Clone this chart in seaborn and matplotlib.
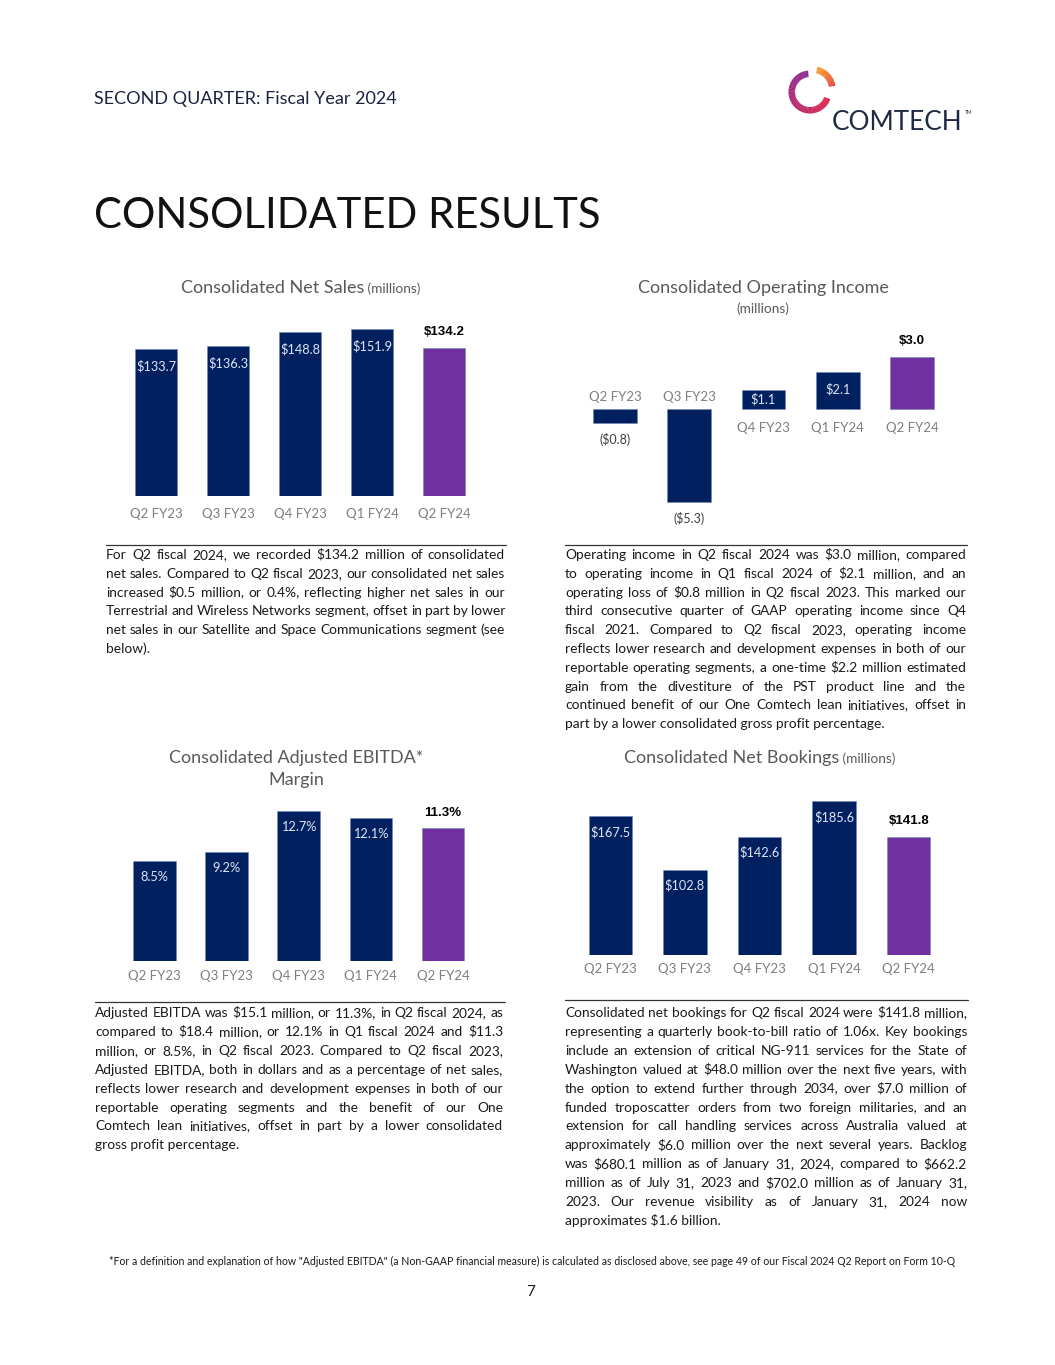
import numpy as np
import pandas as pd
import matplotlib
matplotlib.use("Agg")
import matplotlib.pyplot as plt
import seaborn as sns
from matplotlib.patches import Wedge

# ===== data =====
quarters = ["Q2 FY23", "Q3 FY23", "Q4 FY23", "Q1 FY24", "Q2 FY24"]
net_sales = [133.7, 136.3, 148.8, 151.9, 134.2]
op_income = [-0.8, -5.3, 1.1, 2.1, 3.0]
ebitda_margin = [8.5, 9.2, 12.7, 12.1, 11.3]
bookings = [167.5, 102.8, 142.6, 185.6, 141.8]

sales_labels = ["$133.7", "$136.3", "$148.8", "$151.9", "$134.2"]
op_labels = ["($0.8)", "($5.3)", "$1.1", "$2.1", "$3.0"]
ebitda_labels = ["8.5%", "9.2%", "12.7%", "12.1%", "11.3%"]
booking_labels = ["$167.5", "$102.8", "$142.6", "$185.6", "$141.8"]

para_sales = [
    "For Q2 fiscal 2024, we recorded $134.2 million of consolidated",
    "net sales. Compared to Q2 fiscal 2023, our consolidated net sales",
    "increased $0.5 million, or 0.4%, reflecting higher net sales in our",
    "Terrestrial and Wireless Networks segment, offset in part by lower",
    "net sales in our Satellite and Space Communications segment (see",
    "below).",
]
para_op = [
    "Operating income in Q2 fiscal 2024 was $3.0 million, compared",
    "to operating income in Q1 fiscal 2024 of $2.1 million, and an",
    "operating loss of $0.8 million in Q2 fiscal 2023. This marked our",
    "third consecutive quarter of GAAP operating income since Q4",
    "fiscal 2021. Compared to Q2 fiscal 2023, operating income",
    "reflects lower research and development expenses in both of our",
    "reportable operating segments, a one-time $2.2 million estimated",
    "gain from the divestiture of the PST product line and the",
    "continued benefit of our One Comtech lean initiatives, offset in",
    "part by a lower consolidated gross profit percentage.",
]
para_ebitda = [
    "Adjusted EBITDA was $15.1 million, or 11.3%, in Q2 fiscal 2024, as",
    "compared to $18.4 million, or 12.1% in Q1 fiscal 2024 and $11.3",
    "million, or 8.5%, in Q2 fiscal 2023. Compared to Q2 fiscal 2023,",
    "Adjusted EBITDA, both in dollars and as a percentage of net sales,",
    "reflects lower research and development expenses in both of our",
    "reportable operating segments and the benefit of our One",
    "Comtech lean initiatives, offset in part by a lower consolidated",
    "gross profit percentage.",
]
para_book = [
    "Consolidated net bookings for Q2 fiscal 2024 were $141.8 million,",
    "representing a quarterly book-to-bill ratio of 1.06x. Key bookings",
    "include an extension of critical NG-911 services for the State of",
    "Washington valued at $48.0 million over the next five years, with",
    "the option to extend further through 2034, over $7.0 million of",
    "funded troposcatter orders from two foreign militaries, and an",
    "extension for call handling services across Australia valued at",
    "approximately $6.0 million over the next several years. Backlog",
    "was $680.1 million as of January 31, 2024, compared to $662.2",
    "million as of July 31, 2023 and $702.0 million as of January 31,",
    "2023. Our revenue visibility as of January 31, 2024 now",
    "approximates $1.6 billion.",
]
footnote = ('*For a definition and explanation of how "Adjusted EBITDA" (a Non-GAAP financial measure) '
            'is calculated as disclosed above, see page 49 of our Fiscal 2024 Q2 Report on Form 10-Q')

# ===== style =====
sns.set_style("white")
plt.rcParams["font.family"] = ["Lato", "DejaVu Sans"]

NAVY = "#002060"
PURPLE = "#7030A0"
INSIDE = "#DDE5F3"
CAT_GRAY = "#7F7F7F"
TITLE_GRAY = "#595959"
TEXT = "#1A1A1A"
colors = [NAVY] * 4 + [PURPLE]

W, H = 1055, 1365
fig = plt.figure(figsize=(W / 100, H / 100), dpi=100)
fig.patch.set_facecolor("white")
renderer = fig.canvas.get_renderer()


def fx(x):
    return x / W


def fy(y):
    return 1 - y / H


def px_axes(left, right, top, bottom):
    return fig.add_axes([fx(left), fy(bottom), (right - left) / W, (bottom - top) / H])


def text_width(s, **kw):
    t = fig.text(0, 0, s, **kw)
    w = t.get_window_extent(renderer).width
    t.remove()
    return w


def justify(lines, x0, x1, y0, dy, size=9.9):
    kw = dict(fontsize=size, color=TEXT, va="baseline")
    for i, line in enumerate(lines):
        y = y0 + i * dy + 4
        if i == len(lines) - 1:
            fig.text(fx(x0), fy(y), line, ha="left", **kw)
            continue
        words = line.split()
        widths = [text_width(w, **kw) for w in words]
        gap = (x1 - x0 - sum(widths)) / (len(words) - 1)
        x = x0
        for w, wd in zip(words, widths):
            fig.text(fx(x), fy(y), w, ha="left", **kw)
            x += wd + gap


def title_pair(main, small, cx, y, size=13, small_size=9.8):
    kw_main = dict(fontsize=size, color=TITLE_GRAY, va="baseline")
    kw_small = dict(fontsize=small_size, color=TITLE_GRAY, va="baseline")
    w1 = text_width(main, **kw_main)
    w2 = text_width(" " + small, **kw_small)
    x0 = cx - (w1 + w2) / 2
    fig.text(fx(x0), fy(y), main, ha="left", **kw_main)
    fig.text(fx(x0 + w1), fy(y), " " + small, ha="left", **kw_small)


def bars(ax, values, ylim, width):
    df = pd.DataFrame({"quarter": quarters, "value": values})
    sns.barplot(data=df, x="quarter", y="value", hue="quarter", palette=colors,
                saturation=1, width=width, legend=False, ax=ax,
                edgecolor="#6F86B8", linewidth=0.4)
    ax.set_xlim(-0.5, 4.5)
    ax.set_ylim(*ylim)
    sns.despine(ax=ax, left=True, bottom=True)
    ax.set_yticks([])
    ax.set_xlabel("")
    ax.set_ylabel("")
    ax.set_facecolor("none")


def label_bars(ax, values, labels, inside=17, above=16):
    for i, (v, s) in enumerate(zip(values, labels)):
        if i < 4:
            ax.annotate(s, xy=(i, v), xytext=(0, -inside), textcoords="offset pixels",
                        ha="center", va="center", fontsize=9.2, color=INSIDE)
        else:
            ax.annotate(s, xy=(i, v), xytext=(0, above), textcoords="offset pixels",
                        ha="center", va="center", fontsize=9.5, color="black",
                        fontweight="bold", family=["Liberation Sans", "DejaVu Sans"])


def cat_ticks(ax, pad):
    ax.tick_params(axis="x", length=0, pad=pad, labelsize=9.5, labelcolor=CAT_GRAY)


# ===== header =====
fig.text(fx(94), fy(99), "SECOND QUARTER: Fiscal Year 2024", fontsize=13,
         color="#1C2340", ha="left", va="center")
big_kw = dict(color="#111111", ha="left", va="center")
big_size = 31 * 504 / text_width("CONSOLIDATED RESULTS", fontsize=31, **big_kw)
fig.text(fx(94), fy(216), "CONSOLIDATED RESULTS", fontsize=big_size, **big_kw)

# logo
lax = px_axes(780, 840, 61, 121)
lax.set_xlim(-30, 30)
lax.set_ylim(-30, 30)
lax.set_aspect("equal")
lax.axis("off")
c0 = np.array([0x8A, 0x2B, 0x92]) / 255
c1 = np.array([0xE0, 0x26, 0x4F]) / 255
angles = np.linspace(95, 340, 60)
for k in range(len(angles) - 1):
    t = k / (len(angles) - 2)
    col = c0 * (1 - t) + c1 * t
    lax.add_patch(Wedge((0, -1), 21.5, angles[k], angles[k + 1] + 0.8, width=6.5,
                        color=col, lw=0))
c2 = np.array([0xE8, 0x45, 0x38]) / 255
c3 = np.array([0xF5, 0x9E, 0x2A]) / 255
angles2 = np.linspace(8, 78, 30)
for k in range(len(angles2) - 1):
    t = k / (len(angles2) - 2)
    col = c2 * (1 - t) + c3 * t
    lax.add_patch(Wedge((3, 2), 22.5, angles2[k], angles2[k + 1] + 0.8, width=6.5,
                        color=col, lw=0))
logo_kw = dict(color="#1F2A44", ha="left", va="center")
logo_size = 19 * 130 / text_width("COMTECH", fontsize=19, **logo_kw)
fig.text(fx(832), fy(122), "COMTECH", fontsize=logo_size, **logo_kw)
fig.text(fx(965), fy(113), "TM", fontsize=3.5, **logo_kw)

# ===== chart 1: net sales =====
ax1 = px_axes(120, 480, 309, 496)
bars(ax1, net_sales, (0, 170), 0.58)
label_bars(ax1, net_sales, sales_labels)
cat_ticks(ax1, 9)
title_pair("Consolidated Net Sales", "(millions)", 301, 293)

# ===== chart 2: operating income =====
ax2 = px_axes(578, 949, 339, 514)
bars(ax2, op_income, (-6, 4), 0.59)
ax2.set_xticks([])
for i, (v, s) in enumerate(zip(op_income, op_labels)):
    if v < 0:
        ax2.annotate(quarters[i], xy=(i, 0), xytext=(0, 12), textcoords="offset pixels",
                     ha="center", va="center", fontsize=9.5, color=CAT_GRAY)
        ax2.annotate(s, xy=(i, v), xytext=(0, -17), textcoords="offset pixels",
                     ha="center", va="center", fontsize=9, color="#404040")
    else:
        ax2.annotate(quarters[i], xy=(i, 0), xytext=(0, -19), textcoords="offset pixels",
                     ha="center", va="center", fontsize=9.5, color=CAT_GRAY)
        if i < 4:
            h = v * 17.5
            ax2.annotate(s, xy=(i, v), xytext=(0, -min(17, h / 2)), textcoords="offset pixels",
                         ha="center", va="center", fontsize=9.2, color=INSIDE)
        else:
            ax2.annotate(s, xy=(i, v), xytext=(0, 16), textcoords="offset pixels",
                         ha="center", va="center", fontsize=9.5, color="black",
                         fontweight="bold", family=["Liberation Sans", "DejaVu Sans"])
fig.text(fx(763), fy(293), "Consolidated Operating Income", fontsize=13,
         color=TITLE_GRAY, ha="center", va="baseline")
fig.text(fx(763), fy(309), "(millions)", fontsize=9.8, color=TITLE_GRAY,
         ha="center", va="center")

# ===== chart 3: adjusted EBITDA margin =====
ax3 = px_axes(118.5, 479, 784, 961)
bars(ax3, ebitda_margin, (0, 15), 0.59)
label_bars(ax3, ebitda_margin, ebitda_labels, inside=16, above=15)
cat_ticks(ax3, 6.5)
fig.text(fx(296), fy(763), "Consolidated Adjusted EBITDA*", fontsize=13,
         color=TITLE_GRAY, ha="center", va="baseline")
fig.text(fx(296), fy(785), "Margin", fontsize=13,
         color=TITLE_GRAY, ha="center", va="baseline")

# ===== chart 4: net bookings =====
ax4 = px_axes(573, 946, 789, 955)
bars(ax4, bookings, (0, 200), 0.58)
label_bars(ax4, bookings, booking_labels, inside=16, above=16)
cat_ticks(ax4, 6)
title_pair("Consolidated Net Bookings", "(millions)", 760, 763)

# ===== rules and paragraphs =====
for x0, x1, y in [(106, 506, 545), (565, 967, 545), (95, 505, 1002), (565, 968, 1000)]:
    fig.add_artist(plt.Line2D([fx(x0), fx(x1)], [fy(y), fy(y)], color="#333333", lw=0.9))

justify(para_sales, 106, 505, 555, 18.8)
justify(para_op, 565, 966, 555, 18.8)
justify(para_ebitda, 95, 503, 1013, 18.9)
justify(para_book, 565, 967, 1013, 18.9)

foot_kw = dict(color=TEXT, ha="center", va="center")
foot_size = 7 * 846 / text_width(footnote, fontsize=7, **foot_kw)
fig.text(fx(532), fy(1261), footnote, fontsize=foot_size, **foot_kw)
fig.text(fx(531), fy(1292), "7", fontsize=11, color=TEXT, ha="center", va="center")

fig.savefig("out.png", dpi=100, facecolor="white")
